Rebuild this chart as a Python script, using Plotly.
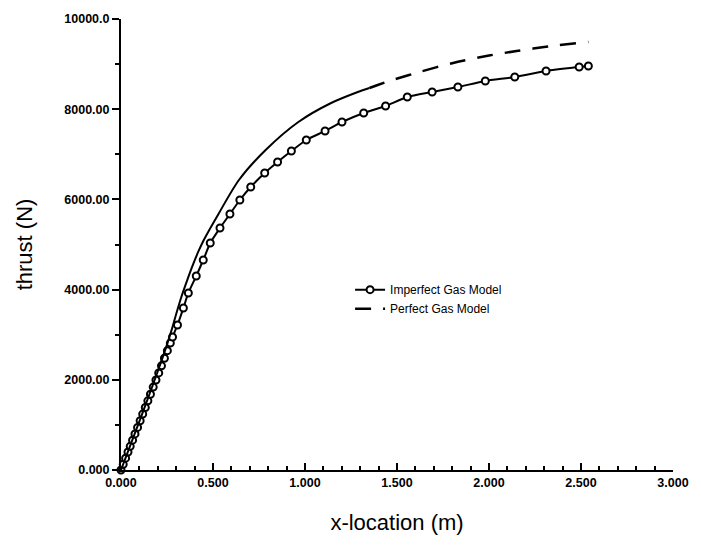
import plotly.graph_objects as go

# Imperfect gas model (markers + line)
imp_x = [0.0, 0.012, 0.025, 0.038, 0.05, 0.063, 0.076, 0.09, 0.104, 0.118, 0.132, 0.146,
         0.16, 0.175, 0.19, 0.205, 0.22, 0.236, 0.252, 0.268, 0.28, 0.307, 0.339, 0.366,
         0.409, 0.447, 0.485, 0.538, 0.592, 0.646, 0.705, 0.781, 0.851, 0.926, 1.007,
         1.109, 1.201, 1.319, 1.438, 1.556, 1.691, 1.831, 1.98, 2.14, 2.31, 2.49, 2.54]
imp_y = [0, 125, 262, 400, 525, 662, 800, 945, 1092, 1240, 1386, 1533,
         1680, 1838, 1995, 2152, 2310, 2478, 2646, 2814, 2949, 3215, 3592, 3925,
         4302, 4656, 5033, 5366, 5676, 5987, 6275, 6585, 6829, 7073, 7317,
         7517, 7716, 7916, 8071, 8270, 8381, 8492, 8625, 8714, 8847, 8936, 8958]

# Perfect gas model
per_x = [0.0, 0.05, 0.10, 0.15, 0.20, 0.25, 0.275, 0.30, 0.328, 0.36, 0.388, 0.42,
         0.45, 0.533, 0.641, 0.786, 0.964, 1.142, 1.287, 1.35, 1.395, 1.486, 1.626,
         1.80, 2.00, 2.15, 2.32, 2.54]
per_y = [0, 540, 1080, 1630, 2190, 2780, 3104, 3460, 3836, 4210, 4520, 4840,
         5100, 5700, 6430, 7095, 7716, 8137, 8381, 8470, 8537, 8660, 8830,
         9020, 9190, 9290, 9390, 9490]
solid_until = 1.35

x_ticks = [0.0, 0.5, 1.0, 1.5, 2.0, 2.5, 3.0]
x_ticklabels = ["0.000", "0.500", "1.000", "1.500", "2.000", "2.500", "3.000"]
x_minor = [0.1, 0.2, 0.3, 0.4, 0.6, 0.7, 0.8, 0.9, 1.1, 1.2, 1.3, 1.4, 1.6, 1.7, 1.8, 1.9,
           2.1, 2.2, 2.3, 2.4, 2.6, 2.7, 2.8, 2.9]
y_ticks = [0, 2000, 4000, 6000, 8000, 10000]
y_ticklabels = ["0.000", "2000.00", "4000.00", "6000.00", "8000.00", "10000.0"]
y_minor = [1000, 3000, 5000, 7000, 9000]

sx = [x for x in per_x if x <= solid_until]
sy = [y for x, y in zip(per_x, per_y) if x <= solid_until]
dx = [x for x in per_x if x >= solid_until]
dy = [y for x, y in zip(per_x, per_y) if x >= solid_until]

fig = go.Figure()
fig.add_trace(go.Scatter(x=imp_x, y=imp_y, mode="lines+markers", name="Imperfect Gas Model",
                         line=dict(color="black", width=2, shape="spline", smoothing=0.6),
                         marker=dict(symbol="circle", size=7, color="white",
                                     line=dict(color="black", width=2)),
                         cliponaxis=False))
fig.add_trace(go.Scatter(x=sx, y=sy, mode="lines", showlegend=False,
                         line=dict(color="black", width=2, shape="spline", smoothing=0.8),
                         cliponaxis=False))
fig.add_trace(go.Scatter(x=dx, y=dy, mode="lines", name="Perfect Gas Model",
                         line=dict(color="black", width=2.5, dash="16px,12px",
                                   shape="spline", smoothing=0.8),
                         cliponaxis=False))
# invisible trace on overlay axes so the minor-tick axes are drawn
fig.add_trace(go.Scatter(x=[x_ticks[0]], y=[y_ticks[0]], xaxis="x2", yaxis="y2",
                         mode="markers", marker=dict(opacity=0), showlegend=False,
                         hoverinfo="skip"))

tickfont = dict(family="Liberation Sans, Arial, sans-serif", size=12.5, color="black", weight="bold")
fig.update_layout(
    width=701, height=547,
    margin=dict(l=121, r=23, t=19, b=77),
    paper_bgcolor="white", plot_bgcolor="white",
    showlegend=True,
    legend=dict(x=0.415, y=0.432, xanchor="left", yanchor="top",
                bgcolor="rgba(0,0,0,0)", borderwidth=0,
                font=dict(family="Liberation Sans, Arial, sans-serif", size=12, color="black"),
                tracegroupgap=0, itemwidth=30),
    xaxis=dict(range=[0, 3.0], showgrid=False, zeroline=False,
               showline=True, linecolor="black", linewidth=2,
               ticks="inside", ticklen=7, tickwidth=2, tickcolor="black",
               tickvals=x_ticks, ticktext=x_ticklabels, tickfont=tickfont,
               title=dict(text="x-location (m)", standoff=26,
                          font=dict(family="Liberation Sans, Arial, sans-serif", size=22, color="black"))),
    yaxis=dict(range=[0, 10000], showgrid=False, zeroline=False,
               showline=True, linecolor="black", linewidth=2,
               ticks="outside", ticklen=7, tickwidth=2, tickcolor="black",
               tickvals=y_ticks, ticktext=y_ticklabels, tickfont=tickfont,
               title=dict(text="thrust (N)", standoff=26,
                          font=dict(family="Liberation Sans, Arial, sans-serif", size=22, color="black"))),
    xaxis2=dict(range=[0, 3.0], overlaying="x", side="bottom", anchor="y2",
                showgrid=False, zeroline=False, showline=False, showticklabels=False,
                ticks="inside", ticklen=4, tickwidth=1.5, tickcolor="black",
                tickvals=x_minor),
    yaxis2=dict(range=[0, 10000], overlaying="y", side="left", anchor="x2",
                showgrid=False, zeroline=False, showline=False, showticklabels=False,
                ticks="outside", ticklen=5, tickwidth=1.5, tickcolor="black",
                tickvals=y_minor),
)

fig.write_html("out.html")
